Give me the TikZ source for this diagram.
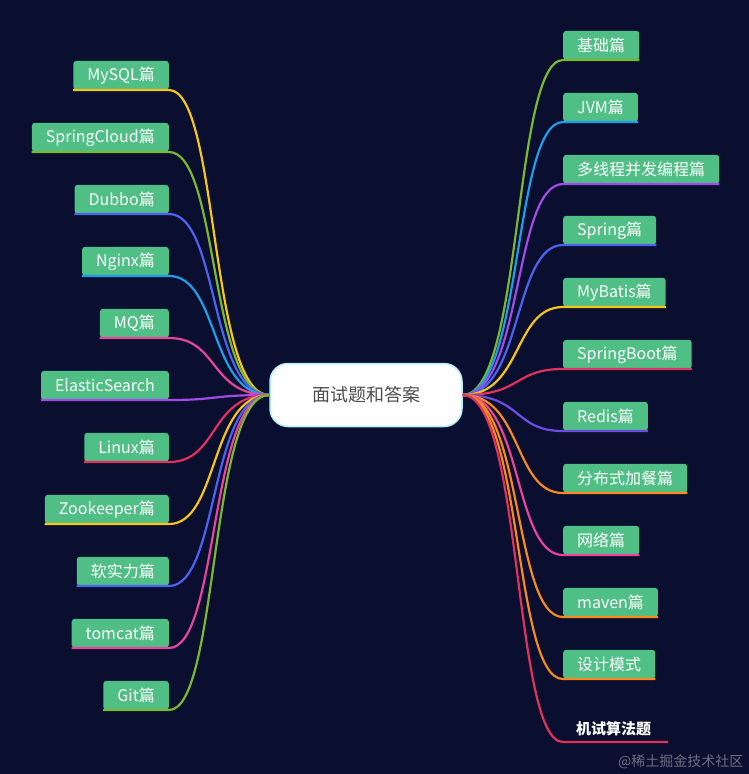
\documentclass[tikz,border=0pt]{standalone}
\usepackage{fontspec}
\setmainfont{Noto Sans CJK SC}
\begin{document}
\begin{tikzpicture}[x=1pt,y=-1pt,
  leaf/.style={fill=lgreen,rounded corners=3pt,text=white,font=\fontsize{16}{19}\selectfont,minimum height=29pt,inner xsep=14pt,inner ysep=0pt},
  br/.style={line width=2.2pt},
]
\definecolor{bg}{HTML}{0A0E2F}
\definecolor{lgreen}{HTML}{4FBF86}
\definecolor{cgreen}{HTML}{7CB82F}
\definecolor{cblue}{HTML}{1E9DE8}
\definecolor{cpurple}{HTML}{A24BE8}
\definecolor{cbv}{HTML}{4B63F0}
\definecolor{cyellow}{HTML}{F5C518}
\definecolor{ccrim}{HTML}{E0325C}
\definecolor{cviol}{HTML}{6B4DE0}
\definecolor{corange}{HTML}{F68A1E}
\definecolor{cpink}{HTML}{E8459A}
\fill[bg] (0,0) rectangle (749,774);
\useasboundingbox (0,0) rectangle (749,774);
\node[draw=blue!25!cyan!30,line width=1.5pt,fill=white,rounded corners=18pt,minimum width=192pt,minimum height=63pt,text=black!70,font=\fontsize{18}{21}\selectfont] (root) at (366,395) {面试题和答案};
% right
\foreach \n/\t/\y/\c in {r1/基础篇/61/cgreen, r2/JVM篇/123/cblue, r3/多线程并发编程篇/185/cpurple, r4/Spring篇/246/cbv, r5/MyBatis篇/308/cyellow, r6/SpringBoot篇/370/ccrim, r7/Redis篇/432/cviol, r8/分布式加餐篇/494/corange, r9/网络篇/556/cpink, r10/maven篇/618/corange, r11/设计模式/680/corange}{
  \node[leaf,anchor=south west] (\n) at (563,\y-1) {\t};
  \draw[br,\c] (root.east) .. controls +(60,0) and +(-50,0) .. (\n.south west) -- (\n.south east);
}
\node[anchor=south west,text=white,font=\bfseries\fontsize{15}{18}\selectfont,inner sep=2pt] (r12) at (574,738) {机试算法题};
\coordinate (r12a) at (563,742);
\coordinate (r12b) at (668,742);
\draw[br,ccrim] (root.east) .. controls +(60,0) and +(-50,0) .. (r12a) -- (r12b);
% left
\foreach \n/\t/\y/\c in {l1/MySQL篇/91/cyellow, l2/SpringCloud篇/153/cgreen, l3/Dubbo篇/215/cbv, l4/Nginx篇/277/cblue, l5/MQ篇/339/cpink, l6/ElasticSearch/401/cpurple, l7/Linux篇/463/ccrim, l8/Zookeeper篇/525/cyellow, l9/软实力篇/587/cbv, l10/tomcat篇/649/cpink, l11/Git篇/711/cgreen}{
  \node[leaf,anchor=south east] (\n) at (169,\y-1) {\t};
  \draw[br,\c] (root.west) .. controls +(-60,0) and +(50,0) .. (\n.south east) -- (\n.south west);
}
\node[text=white!40!bg,font=\fontsize{14}{17}\selectfont,anchor=south east] (wm) at (747,772) {@稀土掘金技术社区};
\end{tikzpicture}
\end{document}
